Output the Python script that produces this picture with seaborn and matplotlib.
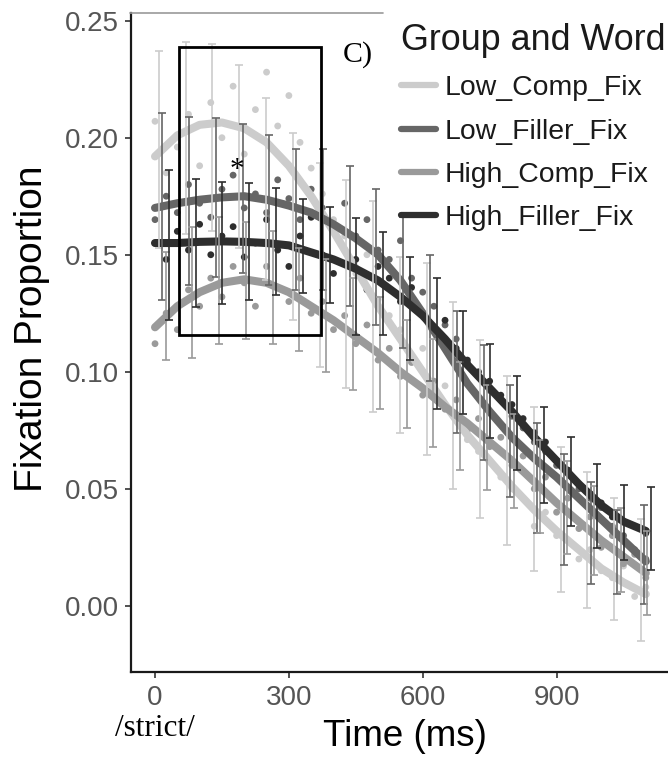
import numpy as np
import pandas as pd
import matplotlib
matplotlib.use("Agg")
import matplotlib.pyplot as plt
from matplotlib.lines import Line2D
from matplotlib.patches import Rectangle
import seaborn as sns

# ---------------- data ----------------
groups = ["Low_Comp_Fix", "Low_Filler_Fix", "High_Comp_Fix", "High_Filler_Fix"]
colors = ["#cccccc", "#666666", "#9a9a9a", "#2e2e2e"]

# smooth (loess-like) curves, every 50 ms
curve_time = [0, 50, 100, 150, 200, 250, 300, 350, 400, 450, 500, 550,
              600, 650, 700, 750, 800, 850, 900, 950, 1000, 1050, 1100]
curve_low_comp = [0.192, 0.201, 0.2055, 0.2065, 0.204, 0.198, 0.188, 0.175, 0.160, 0.144, 0.128, 0.114,
                  0.100, 0.086, 0.073, 0.062, 0.051, 0.041, 0.032, 0.024, 0.016, 0.010, 0.005]
curve_low_filler = [0.170, 0.172, 0.1735, 0.1745, 0.175, 0.1735, 0.171, 0.168, 0.163, 0.157, 0.150, 0.139,
                    0.125, 0.110, 0.095, 0.083, 0.072, 0.063, 0.055, 0.046, 0.037, 0.028, 0.019]
curve_high_comp = [0.119, 0.128, 0.134, 0.138, 0.1395, 0.138, 0.134, 0.128, 0.122, 0.115, 0.108, 0.100,
                   0.093, 0.085, 0.078, 0.070, 0.062, 0.053, 0.044, 0.036, 0.028, 0.021, 0.014]
curve_high_filler = [0.155, 0.155, 0.1555, 0.1557, 0.1555, 0.155, 0.154, 0.151, 0.148, 0.144, 0.139, 0.132,
                     0.124, 0.114, 0.103, 0.093, 0.083, 0.072, 0.062, 0.052, 0.043, 0.036, 0.032]

# raw points, every 25 ms
dot_time = list(range(0, 1101, 25))
dots_low_comp = [0.207, 0.185, 0.196, 0.210, 0.188, 0.215, 0.200, 0.222, 0.193, 0.212, 0.228, 0.205,
                 0.218, 0.198, 0.187, 0.176, 0.165, 0.158, 0.142, 0.150, 0.131, 0.124, 0.118, 0.104,
                 0.110, 0.090, 0.094, 0.080, 0.071, 0.066, 0.070, 0.055, 0.050, 0.046, 0.034, 0.040,
                 0.030, 0.028, 0.020, 0.024, 0.015, 0.012, 0.017, 0.004, 0.008]
dots_low_filler = [0.165, 0.175, 0.168, 0.180, 0.172, 0.166, 0.178, 0.184, 0.170, 0.176, 0.168, 0.182,
                   0.174, 0.165, 0.178, 0.170, 0.163, 0.172, 0.158, 0.165, 0.152, 0.148, 0.156, 0.140,
                   0.134, 0.128, 0.120, 0.114, 0.104, 0.098, 0.092, 0.088, 0.081, 0.076, 0.070, 0.066,
                   0.060, 0.058, 0.050, 0.046, 0.042, 0.034, 0.030, 0.024, 0.020]
dots_high_comp = [0.112, 0.125, 0.118, 0.135, 0.128, 0.140, 0.132, 0.145, 0.138, 0.128, 0.145, 0.136,
                  0.130, 0.140, 0.125, 0.130, 0.118, 0.124, 0.112, 0.120, 0.105, 0.110, 0.098, 0.104,
                  0.090, 0.096, 0.084, 0.088, 0.075, 0.080, 0.068, 0.072, 0.060, 0.064, 0.050, 0.055,
                  0.040, 0.046, 0.033, 0.038, 0.025, 0.030, 0.018, 0.022, 0.012]
dots_high_filler = [0.155, 0.148, 0.160, 0.152, 0.163, 0.150, 0.158, 0.162, 0.149, 0.155, 0.165, 0.152,
                    0.145, 0.158, 0.166, 0.150, 0.142, 0.152, 0.148, 0.135, 0.145, 0.140, 0.130, 0.136,
                    0.125, 0.118, 0.122, 0.110, 0.105, 0.100, 0.096, 0.090, 0.086, 0.080, 0.074, 0.070,
                    0.062, 0.058, 0.052, 0.048, 0.044, 0.038, 0.036, 0.034, 0.031]

# error bars (mean +/- half width), every 60 ms
bar_time = [20, 80, 140, 200, 260, 320, 380, 440, 500, 560, 620, 680, 740, 800, 860, 920, 980, 1040, 1100]
bar_mean_low_comp = [0.195, 0.200, 0.200, 0.192, 0.178, 0.162, 0.1455, 0.1375, 0.128, 0.1114, 0.1055, 0.090,
                     0.0755, 0.062, 0.050, 0.037, 0.028, 0.020, 0.011]
bar_hw_low_comp = [0.042, 0.041, 0.040, 0.039, 0.039, 0.040, 0.0435, 0.0445, 0.045, 0.0376, 0.041, 0.040,
                   0.038, 0.036, 0.035, 0.031, 0.029, 0.026, 0.026]
bar_mean_low_filler = [0.1707, 0.173, 0.1746, 0.174, 0.169, 0.165, 0.165, 0.158, 0.149, 0.138, 0.123, 0.100,
                       0.0868, 0.0705, 0.0546, 0.041, 0.031, 0.023, 0.022]
bar_hw_low_filler = [0.040, 0.036, 0.034, 0.032, 0.032, 0.030, 0.030, 0.030, 0.029, 0.028, 0.027, 0.026,
                     0.0245, 0.024, 0.0236, 0.0237, 0.0217, 0.018, 0.021]
bar_mean_high_comp = [0.128, 0.134, 0.139, 0.139, 0.136, 0.131, 0.124, 0.116, 0.108, 0.099, 0.091, 0.081,
                      0.072, 0.062, 0.051, 0.042, 0.032, 0.024, 0.014]
bar_hw_high_comp = [0.023, 0.028, 0.027, 0.025, 0.024, 0.022, 0.024, 0.024, 0.024, 0.023, 0.023, 0.023,
                    0.0225, 0.020, 0.020, 0.020, 0.019, 0.018, 0.018]
bar_mean_high_filler = [0.154, 0.155, 0.155, 0.1556, 0.1556, 0.1537, 0.1497, 0.1405, 0.1375, 0.127, 0.112, 0.104,
                        0.0917, 0.078, 0.0643, 0.053, 0.0428, 0.0356, 0.033]
bar_hw_high_filler = [0.032, 0.0275, 0.026, 0.025, 0.023, 0.020, 0.0205, 0.025, 0.022, 0.022, 0.028, 0.022,
                      0.020, 0.020, 0.0205, 0.019, 0.018, 0.016, 0.0176]

x_ticks = [0, 300, 600, 900]
y_ticks = [0.00, 0.05, 0.10, 0.15, 0.20, 0.25]
y_tick_labels = ["0.00", "0.05", "0.10", "0.15", "0.20", "0.25"]

# highlighted window (annotation)
box_time = (54, 373)
box_prop = (0.1158, 0.2387)

# ---------------- tables ----------------
curves = [curve_low_comp, curve_low_filler, curve_high_comp, curve_high_filler]
dots = [dots_low_comp, dots_low_filler, dots_high_comp, dots_high_filler]
means = [bar_mean_low_comp, bar_mean_low_filler, bar_mean_high_comp, bar_mean_high_filler]
hws = [bar_hw_low_comp, bar_hw_low_filler, bar_hw_high_comp, bar_hw_high_filler]

curve_df = pd.concat([pd.DataFrame({"Time": curve_time, "Prop": c, "Group": g})
                      for g, c in zip(groups, curves)], ignore_index=True)
dot_df = pd.concat([pd.DataFrame({"Time": dot_time, "Prop": d, "Group": g})
                    for g, d in zip(groups, dots)], ignore_index=True)
palette = dict(zip(groups, colors))

# ---------------- plot ----------------
sns.set_style("ticks")
plt.rcParams["font.family"] = ["Liberation Sans", "DejaVu Sans"]

W, H = 668, 757
fig = plt.figure(figsize=(W / 100, H / 100), dpi=100)
ax_left, ax_bottom, ax_top = 130.7, 672.0, 12.7
ax = fig.add_axes([ax_left / W, (H - ax_bottom) / H, 1 - ax_left / W, (ax_bottom - ax_top) / H])

sns.scatterplot(data=dot_df, x="Time", y="Prop", hue="Group", palette=palette,
                s=24, linewidth=0, legend=False, ax=ax, zorder=1)
sns.lineplot(data=curve_df, x="Time", y="Prop", hue="Group", palette=palette,
             linewidth=5.8, estimator=None, errorbar=None, legend=False, ax=ax, zorder=2)

dodge = [-11.2, -3.7, 3.7, 11.2]
for i, g in enumerate(groups):
    xt = np.array(bar_time) + dodge[i]
    ax.errorbar(xt, means[i], yerr=hws[i], fmt="none", ecolor=colors[i],
                elinewidth=1.2, capsize=2.6, capthick=1.2, zorder=3)

ax.add_patch(Rectangle((box_time[0], box_prop[0]), box_time[1] - box_time[0],
                       box_prop[1] - box_prop[0], fill=False, edgecolor="black",
                       linewidth=2.0, zorder=5))

ax.set_xlim(-54.5, 1149.7)
ax.set_ylim(-0.02826, 0.2534)
ax.set_xticks(x_ticks)
ax.set_yticks(y_ticks)
ax.set_yticklabels(y_tick_labels)
ax.set_xlabel("")
ax.set_ylabel("")
for side in ["top", "right"]:
    ax.spines[side].set_visible(False)
for side in ["left", "bottom"]:
    ax.spines[side].set_linewidth(1.6)
    ax.spines[side].set_color("#1a1a1a")
ax.tick_params(axis="both", length=4.5, width=1.2, color="#333333",
               labelcolor="#555555", labelsize=20)
ax.tick_params(axis="y", pad=4)
ax.tick_params(axis="x", pad=5)

# thin panel border fragment at top
fig.add_artist(Line2D([130 / W, 383 / W], [1 - 12.7 / H, 1 - 12.7 / H],
                      color="#999999", linewidth=1.2))

fig.text(32 / W, 1 - 329 / H, "Fixation Proportion", rotation=90, ha="center", va="center",
         fontsize=28, color="black")
fig.text(405 / W, 1 - 737 / H, "Time (ms)", ha="center", va="center", fontsize=26.5, color="black")
fig.text(155 / W, 1 - 728 / H, "/strict/", ha="center", va="center", fontsize=22.5,
         family=["Liberation Serif", "DejaVu Serif"], color="black")
fig.text(358 / W, 1 - 55 / H, "C)", ha="center", va="center", fontsize=21.5,
         family=["Liberation Serif", "DejaVu Serif"], color="black")
fig.text(237 / W, 1 - 170 / H, "*", ha="center", va="center", fontsize=21,
         family=["Liberation Serif", "DejaVu Serif"], color="black")

handles = [Line2D([0], [0], color=c, linewidth=4.5) for c in colors]
leg = ax.legend(handles, groups, title="Group and Word", loc="upper left",
                bbox_to_anchor=(401 / W, 1 - 23 / H), bbox_transform=fig.transFigure,
                frameon=False, fontsize=20.4, title_fontsize=25.8, handlelength=1.25,
                handletextpad=0.3, labelspacing=0.61, borderpad=0, borderaxespad=0,
                alignment="left")
for t in leg.get_texts():
    t.set_color("#1a1a1a")
leg.get_title().set_color("#1a1a1a")

fig.savefig("out.png", dpi=100)
